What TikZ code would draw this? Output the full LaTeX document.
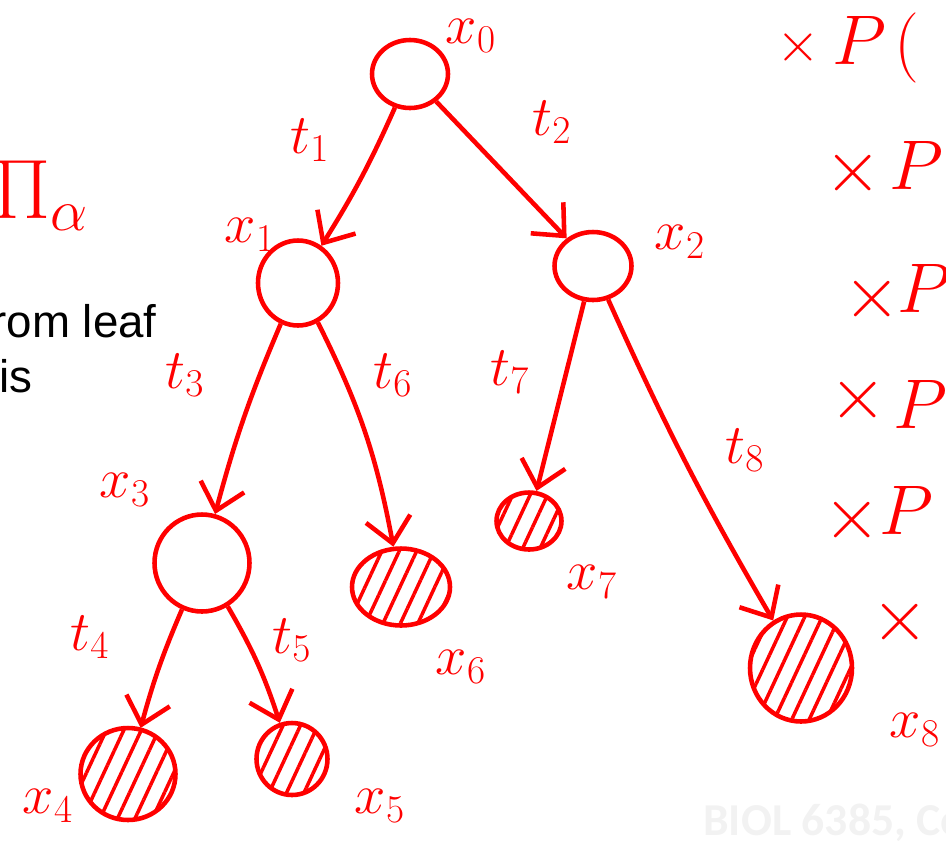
\RequirePackage{fix-cm}
\documentclass[tikz,border=0pt]{standalone}
\usepackage{fontspec}
\newfontfamily\slidefont{Liberation Sans}
\newfontfamily\footfont{Carlito}
\usetikzlibrary{shapes.geometric, arrows.meta, patterns.meta}
\definecolor{inkred}{RGB}{255,0,0}
\definecolor{footgray}{RGB}{242,242,242}

\begin{document}
\begin{tikzpicture}[
    x=0.02cm, y=-0.02cm,
    inner/.style={ellipse, draw=inkred, line width=2.6pt, inner sep=0pt},
    leaf/.style={inner, pattern={Lines[angle=65, distance=9pt, line width=2pt]}, pattern color=inkred},
    edge/.style={-{Straight Barb[length=5mm, width=9mm]}, draw=inkred, line width=2.6pt},
    lbl/.style={text=inkred, inner sep=0pt, font=\fontsize{32}{36}\selectfont},
    crosslbl/.style={text=inkred, inner sep=0pt, font=\fontsize{42}{46}\selectfont},
    prob/.style={text=inkred, inner sep=0pt, font=\fontsize{40}{44}\selectfont},
    slidetxt/.style={text=black, inner sep=0pt, font=\slidefont\fontsize{26}{31}\selectfont},
]
    \useasboundingbox (0,0) rectangle (946,846);
    \clip (0,0) rectangle (946,846);

    % Internal nodes
    \node[inner, minimum width=1.52cm, minimum height=1.36cm] (n0) at (410,74) {};
    \node[inner, minimum width=1.6cm, minimum height=1.7cm] (n1) at (298,283) {};
    \node[inner, minimum width=1.54cm, minimum height=1.36cm] (n2) at (593,266) {};
    \node[inner, minimum width=1.9cm, minimum height=1.94cm] (n3) at (202,563) {};

    % Leaves (hatched)
    \node[leaf, minimum width=1.9cm, minimum height=1.84cm] (n4) at (128,774) {};
    \node[leaf, minimum width=1.42cm, minimum height=1.44cm] (n5) at (292,759) {};
    \node[leaf, minimum width=1.96cm, minimum height=1.54cm] (n6) at (401,587) {};
    \node[leaf, minimum width=1.3cm, minimum height=1.14cm] (n7) at (529,521) {};
    \node[leaf, minimum width=2.04cm, minimum height=2.14cm] (n8) at (801,668) {};

    % Branches
    \draw[edge] (n0) to[bend left=4] (n1);
    \draw[edge] (n0) -- (n2);
    \draw[edge] (n1) to[bend right=4] (n3);
    \draw[edge] (n1) to[bend left=8] (n6);
    \draw[edge] (n2) -- (n7);
    \draw[edge] (n2) to[bend right=3] (n8);
    \draw[edge] (n3) to[bend right=4] (n4);
    \draw[edge] (n3) to[bend left=6] (n5);

    % Node labels
    \node[lbl] (lx0) at (471,36) {$x_0$};
    \node[lbl] (lx1) at (250,235) {$x_1$};
    \node[lbl] (lx2) at (680,242) {$x_2$};
    \node[lbl] (lx3) at (125,490) {$x_3$};
    \node[lbl] (lx4) at (48,806) {$x_4$};
    \node[lbl] (lx5) at (380,806) {$x_5$};
    \node[lbl] (lx6) at (461,667) {$x_6$};
    \node[lbl] (lx7) at (592,582) {$x_7$};
    \node[lbl] (lx8) at (915,730) {$x_8$};

    % Branch lengths
    \node[lbl] (lt1) at (310,140) {$t_1$};
    \node[lbl] (lt2) at (552,122) {$t_2$};
    \node[lbl] (lt3) at (185,375) {$t_3$};
    \node[lbl] (lt4) at (90,637) {$t_4$};
    \node[lbl] (lt5) at (292,640) {$t_5$};
    \node[lbl] (lt6) at (393,375) {$t_6$};
    \node[lbl] (lt7) at (510,372) {$t_7$};
    \node[lbl] (lt8) at (745,450) {$t_8$};

    % Right-hand product
    \node[crosslbl, font=\fontsize{32}{36}\selectfont] (m1) at (798,47) {$\times$};
    \node[prob] (p1) at (859,40) {$P$};
    \foreach \xm/\ym/\xp/\yp [count=\i from 2] in {853/173/916/165, 872/299/924/288, 858/400/920/404, 852/520/906/510}{
        \node[crosslbl] (m\i) at (\xm,\ym) {$\times$};
        \node[prob] (p\i) at (\xp,\yp) {$P$};
    }
    \node[crosslbl] (m6) at (900,622) {$\times$};
    \node[prob] (par1) at (907,48) {$($};
    \node[prob] (par5) at (955,523) {$($};

    % Left margin
    \node[text=inkred, inner sep=0pt, anchor=base west, font=\fontsize{48}{52}\selectfont] (pia) at (-8,218) {$\Pi_\alpha$};
    \node[slidetxt, anchor=base east] (txt1) at (157,337) {from leaf};
    \node[slidetxt, anchor=base east] (txt2) at (33,392) {is};

    % Footer
    \node[anchor=base west, inner sep=0pt, text=footgray, font=\footfont\bfseries\fontsize{26}{30}\selectfont] (foot) at (703,835) {BIOL 6385, Co};
\end{tikzpicture}
\end{document}
